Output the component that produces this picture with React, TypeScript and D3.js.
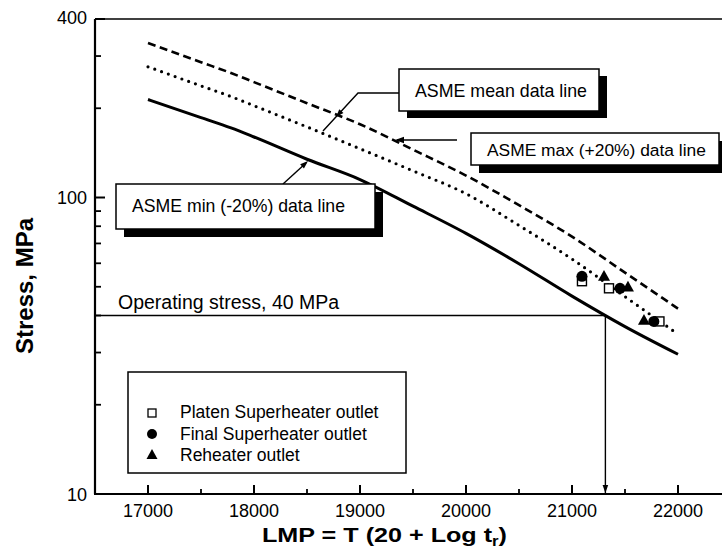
import React from "react";
import * as d3 from "d3";

const lmpGrid = [17000, 17500, 17783, 18000, 18500, 19000, 19500, 20000, 20500, 21000, 21500, 22000];
const maxLine = [332, 286, 263, 245, 208, 176.6, 145, 118.6, 94.2, 73.8, 55.8, 42.2];
const meanLine = [276, 238, 219, 204, 173, 146, 123, 103, 80.5, 62, 46.3, 34.6];
const minLine = [214, 186, 171.7, 160, 134.6, 115, 93.5, 75.7, 59.8, 46.5, 36.7, 29.6];

const platenPts: [number, number][] = [[21094, 52.2], [21349, 49.4], [21825, 38.2]];
const finalPts: [number, number][] = [[21094, 54.2], [21453, 49.4], [21772, 38.2]];
const reheaterPts: [number, number][] = [[21302, 54.2], [21528, 49.8], [21679, 38.5]];

const xMajor = [17000, 18000, 19000, 20000, 21000, 22000];
const xMinor = [17500, 18500, 19500, 20500, 21500];
const yMajor = [10, 100, 400];
const yMinor = [20, 30, 40, 50, 60, 70, 80, 90, 200, 300];

const operatingStress = 40;
const operatingLMP = 21315;

const legendItems = ["Platen Superheater outlet", "Final Superheater outlet", "Reheater outlet"];

const FONT = "'Liberation Sans', Arial, Helvetica, sans-serif";

function Arrow({ x, y, angle, size = 8 }: { x: number; y: number; angle: number; size?: number }) {
  return (
    <path
      d={`M0,0 L${-size},${-size * 0.35} L${-size},${size * 0.35} Z`}
      transform={`translate(${x},${y}) rotate(${angle})`}
      fill="#000"
    />
  );
}

function Tri({ cx, cy, s = 12 }: { cx: number; cy: number; s?: number }) {
  const h = s * 0.9;
  return <path d={`M${cx},${cy - h * 0.6} L${cx + s / 2},${cy + h * 0.4} L${cx - s / 2},${cy + h * 0.4} Z`} fill="#000" />;
}

export default function App() {
  const W = 722, H = 559;
  const left = 95, top = 19, bottom = 494;
  const x = d3.scaleLinear().domain([16500, 22500]).range([left, 731]);
  const y = d3.scaleLog().domain([10, 400]).range([bottom, top]);

  const line = (vals: number[]) =>
    d3
      .line<number>()
      .x((_, i) => x(lmpGrid[i]))
      .y((v) => y(v))
      .curve(d3.curveMonotoneX)(vals) as string;

  const opY = y(operatingStress);
  const opX = x(operatingLMP);

  return (
    <svg width={W} height={H} style={{ position: "absolute", left: 0, top: 0, background: "#fff" }} fontFamily={FONT}>
      <rect x={0} y={0} width={W} height={H} fill="#fff" />
      {/* curves */}
      <path d={line(maxLine)} fill="none" stroke="#000" strokeWidth={2.6} strokeDasharray="8 4.5" />
      <path d={line(meanLine)} fill="none" stroke="#000" strokeWidth={3.2} strokeDasharray="0 7.2" strokeLinecap="round" />
      <path d={line(minLine)} fill="none" stroke="#000" strokeWidth={3} />

      {/* operating stress */}
      <line x1={left} x2={opX} y1={opY} y2={opY} stroke="#000" strokeWidth={1.6} />
      <line x1={opX} x2={opX} y1={opY} y2={bottom - 1} stroke="#000" strokeWidth={1.4} />
      <Arrow x={opX} y={bottom - 1} angle={90} size={8} />
      <text x={118} y={309} fontSize={19.5} fill="#000">Operating stress, 40 MPa</text>

      {/* data points */}
      {platenPts.map((p, i) => (
        <rect key={"p" + i} x={x(p[0]) - 4.5} y={y(p[1]) - 4.5} width={9} height={9} fill="#fff" stroke="#000" strokeWidth={1.4} />
      ))}
      {finalPts.map((p, i) => (
        <circle key={"f" + i} cx={x(p[0])} cy={y(p[1])} r={5.5} fill="#000" />
      ))}
      {reheaterPts.map((p, i) => (
        <Tri key={"r" + i} cx={x(p[0])} cy={y(p[1])} s={12} />
      ))}

      {/* axes */}
      <line x1={left} x2={W} y1={top} y2={top} stroke="#000" strokeWidth={1.6} />
      <line x1={left} x2={left} y1={top} y2={bottom} stroke="#000" strokeWidth={2.2} />
      <line x1={left - 1} x2={W} y1={bottom} y2={bottom} stroke="#000" strokeWidth={2.2} />
      {yMajor.map((v) => (
        <g key={"ym" + v}>
          <line x1={left} x2={left + 10} y1={y(v)} y2={y(v)} stroke="#000" strokeWidth={2} />
          <text x={87} y={y(v) + (v === 400 ? 5 : 6.5)} fontSize={18} textAnchor="end">{v}</text>
        </g>
      ))}
      {yMinor.map((v) => (
        <line key={"yn" + v} x1={left} x2={left + 6} y1={y(v)} y2={y(v)} stroke="#000" strokeWidth={1.8} />
      ))}
      {xMajor.map((v) => (
        <g key={"xm" + v}>
          <line x1={x(v)} x2={x(v)} y1={bottom} y2={bottom - 9} stroke="#000" strokeWidth={2} />
          <text x={x(v)} y={517} fontSize={18} textAnchor="middle">{v}</text>
        </g>
      ))}
      {xMinor.map((v) => (
        <line key={"xn" + v} x1={x(v)} x2={x(v)} y1={bottom} y2={bottom - 5} stroke="#000" strokeWidth={1.8} />
      ))}

      {/* axis titles */}
      <text x={262} y={542} fontSize={21} fontWeight="bold" textLength={245} lengthAdjust="spacingAndGlyphs">
        LMP = T (20 + Log t<tspan fontSize={14} dy={4}>r</tspan><tspan dy={-4}>)</tspan>
      </text>
      <text transform="translate(33,286) rotate(-90)" fontSize={24} fontWeight="bold" textAnchor="middle">
        Stress, MPa
      </text>

      {/* leader lines */}
      <polyline points="399,93 358,93 323,131" fill="none" stroke="#000" strokeWidth={1.4} />
      <Arrow x={336} y={117} angle={132} size={8} />
      <line x1={457} x2={397} y1={140} y2={140} stroke="#000" strokeWidth={1.4} />
      <Arrow x={395} y={140} angle={180} size={9} />
      <line x1={283} x2={306} y1={184} y2={163} stroke="#000" strokeWidth={1.4} />
      <Arrow x={308} y={161} angle={-42} size={8} />

      {/* boxes */}
      <rect x={407} y={76} width={200} height={42} fill="#000" />
      <rect x={399} y={69} width={200} height={42} fill="#fff" stroke="#000" strokeWidth={1.5} />
      <text x={415} y={97} fontSize={19} textLength={172} lengthAdjust="spacingAndGlyphs">ASME mean data line</text>

      <rect x={479} y={141} width={243} height={32} fill="#000" />
      <rect x={471} y={133} width={248} height={32} fill="#fff" stroke="#000" strokeWidth={1.5} />
      <text x={487} y={156} fontSize={17.4}>ASME max (+20%) data line</text>

      <rect x={124} y={192} width={259} height={45} fill="#000" />
      <rect x={116} y={184} width={259} height={45} fill="#fff" stroke="#000" strokeWidth={1.5} />
      <text x={132} y={212} fontSize={19} textLength={213} lengthAdjust="spacingAndGlyphs">ASME min (-20%) data line</text>

      {/* legend */}
      <rect x={128} y={372} width={278} height={101} fill="#fff" stroke="#000" strokeWidth={1.5} />
      <rect x={148} y={409} width={8} height={8} fill="#fff" stroke="#000" strokeWidth={1.3} />
      <circle cx={152} cy={434} r={5} fill="#000" />
      <Tri cx={152} cy={455} s={11} />
      {legendItems.map((t, i) => (
        <text key={t} x={180} y={418 + i * 21.5} fontSize={17.5}>{t}</text>
      ))}
    </svg>
  );
}
